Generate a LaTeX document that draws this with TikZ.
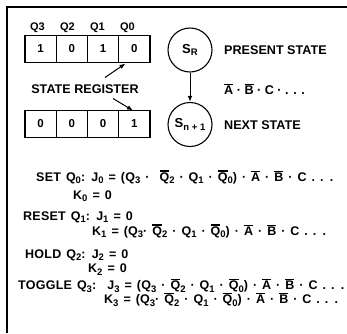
\documentclass[tikz,border=0pt]{standalone}
\usepackage{fontspec}
\setmainfont{Liberation Sans}[BoldFont={Liberation Sans Bold}]
\newfontfamily\eqfont{Liberation Sans}[BoldFont={Liberation Sans Bold},LetterSpace=2]
\usetikzlibrary{arrows.meta}
\newsavebox\ovlbox
\newcommand\ovl[1]{\sbox\ovlbox{#1}\rlap{\rule[\dimexpr\ht\ovlbox+0.7pt\relax]{\wd\ovlbox}{1.2pt}}\usebox\ovlbox}
\newcommand\sbs[1]{\raisebox{-2.6pt}{\fontsize{9.5}{9.5}\selectfont #1}}
\newcommand\eqsp{\spaceskip=5pt plus 1pt minus 0pt\relax}
\tikzset{
  txt/.style={inner sep=0pt, font=\fontsize{12.6}{13}\selectfont\bfseries},
  qlab/.style={inner sep=0pt, font=\fontsize{11}{12}\selectfont\bfseries},
  eq/.style={inner sep=0pt, anchor=base west, font=\eqfont\fontsize{12.5}{13}\selectfont\bfseries\eqsp},
  cell/.style={draw, line width=1.1pt, minimum width=31.25pt, minimum height=27pt, inner sep=0pt, font=\fontsize{11.5}{12}\selectfont\bfseries},
  stcirc/.style={draw, circle, line width=1.1pt, minimum size=44pt, inner sep=0pt, font=\fontsize{13}{13}\selectfont\bfseries},
  arr/.style={line width=1pt, -{Latex[length=6pt,width=4.5pt]}},
}
\begin{document}
\begin{tikzpicture}[x=1pt,y=-1pt]
\useasboundingbox (0,0) rectangle (347,333);
% frame
\draw[line width=2pt] (6,6.5) -- (347,6.5);
\draw[line width=1.6pt] (7,6.5) -- (7,333);
% register labels
\node[qlab] (l3) at (37.5,28) {Q3};
\node[qlab] (l2) at (67.5,28) {Q2};
\node[qlab] (l1) at (97.5,28) {Q1};
\node[qlab] (l0) at (127.5,28) {Q0};
% upper register
\node[cell] (a3) at (40.6,49) {1};
\node[cell] (a2) at (71.9,49) {0};
\node[cell] (a1) at (103.1,49) {1};
\node[cell] (a0) at (134.4,49) {0};
% lower register
\node[cell] (b3) at (40.6,124) {0};
\node[cell] (b2) at (71.9,124) {0};
\node[cell] (b1) at (103.1,124) {0};
\node[cell] (b0) at (134.4,124) {1};
% label
\node[txt] (sr) at (85,89) {STATE REGISTER};
\coordinate (u0) at (105,77.5);
\coordinate (u1) at (125.5,63.5);
\coordinate (d0) at (113,98.5);
\coordinate (d1) at (133,110.5);
\draw[arr] (u0) -- (u1);
\draw[arr] (d0) -- (d1);
% states
\node[stcirc] (s1) at (190,50) {S\sbs{R}};
\node[stcirc] (s2) at (190,124.5) {S\sbs{n + 1}};
\draw[arr] (s1) -- (s2);
\node[txt,anchor=west] (ps) at (224,50) {PRESENT STATE};
\node[txt,anchor=west] (cond) at (224,89) {\ovl{A} · \ovl{B} · C · . . .};
\node[txt,anchor=west] (ns) at (224,125) {NEXT STATE};
% equations
\node[eq] (e1) at (36,181) {SET Q\sbs{0}: J\sbs{0} = (Q\sbs{3} · \ \ovl{Q}\sbs{2} · Q\sbs{1} · \ovl{Q}\sbs{0}) · \ovl{A} · \ovl{B} · C . . .};
\node[eq] (e2) at (73,199) {K\sbs{0} = 0};
\node[eq] (e3) at (23,220) {RESET Q\sbs{1}: J\sbs{1} = 0};
\node[eq] (e4) at (92,235) {K\sbs{1} = (Q\sbs{3}· \ovl{Q}\sbs{2} · Q\sbs{1} · \ovl{Q}\sbs{0}) · \ovl{A} · \ovl{B} · C . . .};
\node[eq] (e5) at (25,258) {HOLD Q\sbs{2}: J\sbs{2} = 0};
\node[eq] (e6) at (88,272.5) {K\sbs{2} = 0};
\node[eq] (e7) at (18,289.5) {TOGGLE Q\sbs{3}: \ J\sbs{3} = (Q\sbs{3} · \ovl{Q}\sbs{2} · Q\sbs{1} · \ovl{Q}\sbs{0}) · \ovl{A} · \ovl{B} · C . . .};
\node[eq] (e8) at (104,303.5) {K\sbs{3} = (Q\sbs{3}· \ovl{Q}\sbs{2} · Q\sbs{1} · \ovl{Q}\sbs{0}) · \ovl{A} · \ovl{B} · C . . .};
\end{tikzpicture}
\end{document}
